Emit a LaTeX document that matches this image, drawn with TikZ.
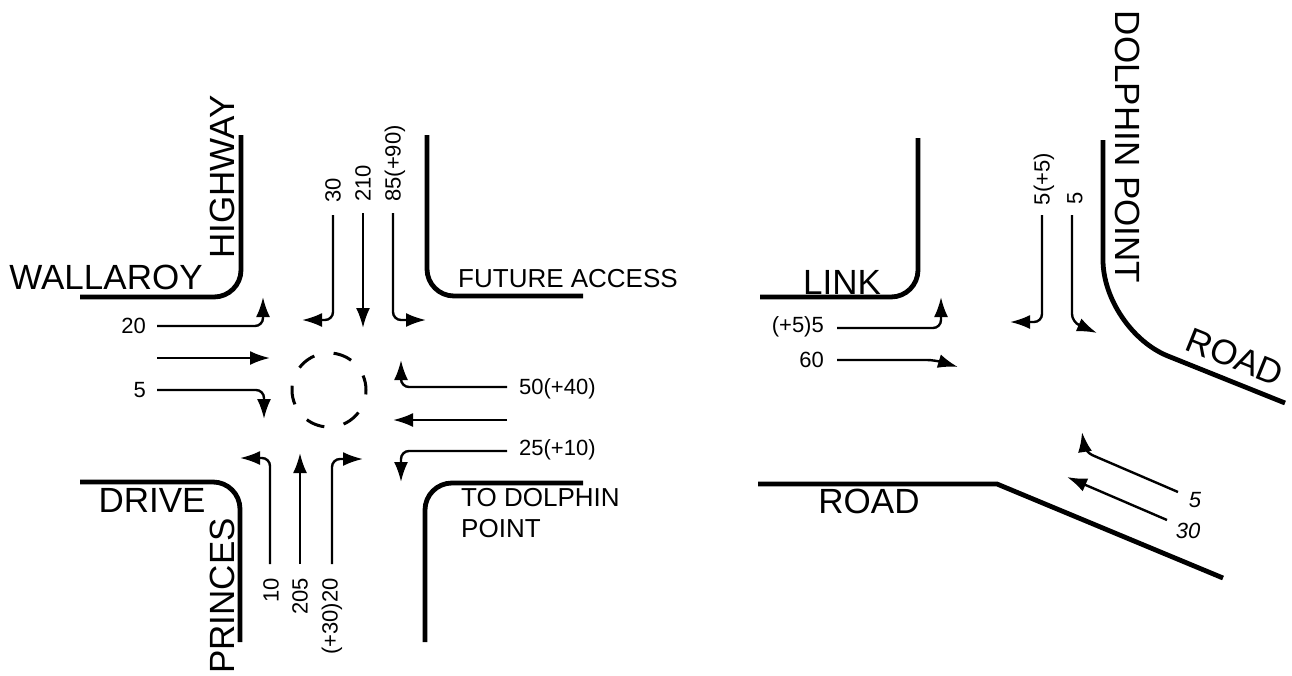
\documentclass[tikz,border=0pt]{standalone}
\usepackage{fontspec}
\setmainfont{Liberation Sans}
\usetikzlibrary{arrows.meta}

\begin{document}
\begin{tikzpicture}[
    x=1pt, y=-1pt,
    kerb/.style={line width=4.8pt, rounded corners=27pt},
    arr/.style={-{Latex[length=20pt, width=14pt]}, line width=2.4pt, rounded corners=8pt},
    road/.style={font=\fontsize{35}{35}\selectfont, inner sep=0pt},
    note/.style={font=\fontsize{26}{31}\selectfont, inner sep=0pt, align=left},
    vol/.style={font=\fontsize{22}{22}\selectfont, inner sep=0pt}
]
    \useasboundingbox (0,0) rectangle (1292,675);

    % kerbs, left junction
    \draw[kerb] (80,297) -- (241,297) -- (241,135);
    \draw[kerb] (427,135) -- (427,296) -- (583,296);
    \draw[kerb] (80,482) -- (240,482) -- (240,642);
    \draw[kerb] (425,642) -- (425,483) -- (583,483);

    % kerbs, right junction
    \draw[kerb] (760,297) -- (918,297) -- (918,138);
    \draw[kerb, rounded corners=70pt] (1103,140) -- (1103,330) -- (1285,403);
    \draw[kerb, rounded corners=0pt] (758,484) -- (997,484) -- (1223,578);

    \node[draw, circle, line width=3pt, minimum size=74pt, inner sep=0pt,
          dash pattern=on 19pt off 19.7pt, dash phase=4.2pt] (hub) at (329,390) {};

    \node[road] (wallaroy) at (106,277) {WALLAROY};
    \node[road, rotate=90] (highway) at (222,177) {HIGHWAY};
    \node[road] (drive) at (152,500) {DRIVE};
    \node[road, rotate=90] (princes) at (222,596) {PRINCES};
    \node[road] (link) at (842,282) {LINK};
    \node[road, rotate=-90] (dolphin) at (1128,147) {DOLPHIN POINT};
    \node[road, rotate=-22] (roadne) at (1235,357) {ROAD};
    \node[road] (roadsw) at (869,501) {ROAD};
    \node[note] (future) at (568,279) {FUTURE ACCESS};
    \node[note, anchor=north west] (todolphin) at (461,488) {TO DOLPHIN\\POINT};

    % movements, west approach
    \node[vol, anchor=east] (w20) at (146,326) {20};
    \node[vol, anchor=east] (w5) at (146,390) {5};
    \draw[arr] (157,326) -- (263,326) -- (263,297);
    \draw[arr] (157,358) -- (270,358);
    \draw[arr] (157,390) -- (264,390) -- (264,419);

    % movements, north approach
    \node[vol, rotate=90, anchor=east] (n30) at (333,178) {30};
    \node[vol, rotate=90, anchor=east] (n210) at (363,165) {210};
    \node[vol, rotate=90, anchor=east] (n85) at (395,125) {85(+90)};
    \draw[arr] (333,215) -- (333,320) -- (302,320);
    \draw[arr] (363,213) -- (363,328);
    \draw[arr] (393,213) -- (393,320) -- (426,320);

    % movements, east approach
    \node[vol, anchor=west] (e50) at (519,389) {50(+40)};
    \node[vol, anchor=west] (e25) at (519,450) {25(+10)};
    \draw[arr] (507,387) -- (401,387) -- (401,360);
    \draw[arr] (507,420) -- (393,420);
    \draw[arr] (507,451) -- (401,451) -- (401,482);

    % movements, south approach
    \node[vol, rotate=90, anchor=east] (s10) at (271,578) {10};
    \node[vol, rotate=90, anchor=east] (s205) at (300,578) {205};
    \node[vol, rotate=90, anchor=east] (s20) at (332,578) {(+30)20};
    \draw[arr] (270,564) -- (270,458) -- (240,458);
    \draw[arr] (300,564) -- (300,453);
    \draw[arr] (332,564) -- (332,459) -- (363,459);

    % movements, right junction
    \node[vol, anchor=east] (l5) at (824,327) {(+5)5};
    \node[vol, anchor=east] (l60) at (824,360) {60};
    \draw[arr] (837,328) -- (941,328) -- (941,297);
    \draw[arr] (837,360) -- (935,360) -- (958,367);
    \node[vol, rotate=90, anchor=east] (d5a) at (1044,153) {5(+5)};
    \node[vol, rotate=90, anchor=east] (d5b) at (1075,192) {5};
    \draw[arr] (1042,215) -- (1042,322) -- (1010,322);
    \draw[arr] (1072,215) -- (1072,322) -- (1097,333);
    \draw[arr] (1178,492) -- (1085,452) -- (1082,432);
    \draw[arr] (1167,520) -- (1067,477);
    \node[vol, font=\fontsize{22}{22}\selectfont\itshape] (r5) at (1195,500) {5};
    \node[vol, font=\fontsize{22}{22}\selectfont\itshape] (r30) at (1188,531) {30};
\end{tikzpicture}
\end{document}
